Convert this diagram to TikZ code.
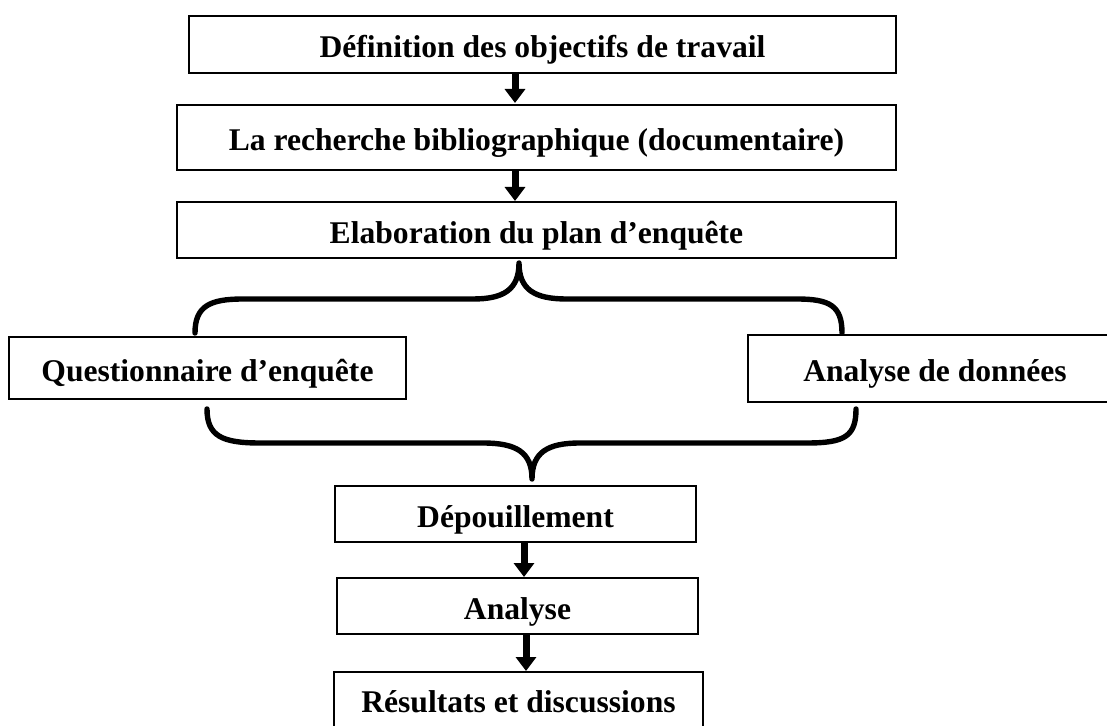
\documentclass[tikz,border=0pt]{standalone}
\usepackage{fontspec}
\setmainfont{Liberation Serif}
\usepackage{tikz}
\usetikzlibrary{positioning,arrows.meta,calc}

\begin{document}
\begin{tikzpicture}[x=0.5pt,y=-0.5pt]
    \tikzstyle{etape} = [rectangle, draw, line width=1pt, inner sep=0pt, text height=16.4pt, text depth=3pt, font=\fontsize{15.8}{19}\selectfont\bfseries]
    \tikzstyle{fleche} = [line width=3.5pt, -{Triangle[width=10pt,length=7pt]}]
    \tikzstyle{accolade} = [line width=2.7pt, line cap=round, line join=round]
    \clip (0,0) rectangle (1107,726);
    \node [etape, minimum width=353.5pt, minimum height=28.5pt] (def) at (542.5,44.5) {Définition des objectifs de travail};
    \node [etape, minimum width=359.5pt, minimum height=32.5pt] (biblio) at (536.5,137.5) {La recherche bibliographique (documentaire)};
    \node [etape, minimum width=359.5pt, minimum height=28pt] (plan) at (536.5,230) {Elaboration du plan d’enquête};
    \node [etape, minimum width=198.5pt, minimum height=31pt] (quest) at (207.5,368) {Questionnaire d’enquête};
    \node [etape, minimum width=187pt, minimum height=33.5pt] (donnees) at (935,368.5) {Analyse de données};
    \node [etape, minimum width=180.5pt, minimum height=28pt] (depouil) at (515.5,514) {Dépouillement};
    \node [etape, minimum width=180.5pt, minimum height=28pt] (analyse) at (517.5,606) {Analyse};
    \node [etape, minimum width=184.5pt, minimum height=27.5pt] (result) at (518.5,699.5) {Résultats et discussions};
    \draw [fleche] ($(def.south)+(-27.5,0)$) -- ($(biblio.north)+(-21.5,-1)$);
    \draw [fleche] ($(biblio.south)+(-21.5,0)$) -- ($(plan.north)+(-21.5,0)$);
    \draw [fleche] ($(depouil.south)+(8.5,0)$) -- ($(analyse.north)+(6.5,0)$);
    \draw [fleche] ($(analyse.south)+(8.5,0)$) -- ($(result.north)+(7.5,0)$);
    \coordinate (hautG) at (195,333);
    \coordinate (hautD) at (842,333);
    \coordinate (pointeH) at (519,263);
    \coordinate (basG) at (207,409);
    \coordinate (basD) at (856,409);
    \coordinate (pointeB) at (532,479);
    \draw [accolade] (hautG) .. controls (195,306) and (210,299) .. (243,299) -- (473,299)
        .. controls (503,299) and (519,290) .. (pointeH)
        .. controls (519,290) and (535,299) .. (567,299) -- (797,299)
        .. controls (830,299) and (842,306) .. (hautD);
    \draw [accolade] (basG) .. controls (207,436) and (222,443) .. (260,443) -- (483,443)
        .. controls (516,443) and (532,452) .. (pointeB)
        .. controls (532,452) and (548,443) .. (580,443) -- (807,443)
        .. controls (845,443) and (856,436) .. (basD);
\end{tikzpicture}
\end{document}
